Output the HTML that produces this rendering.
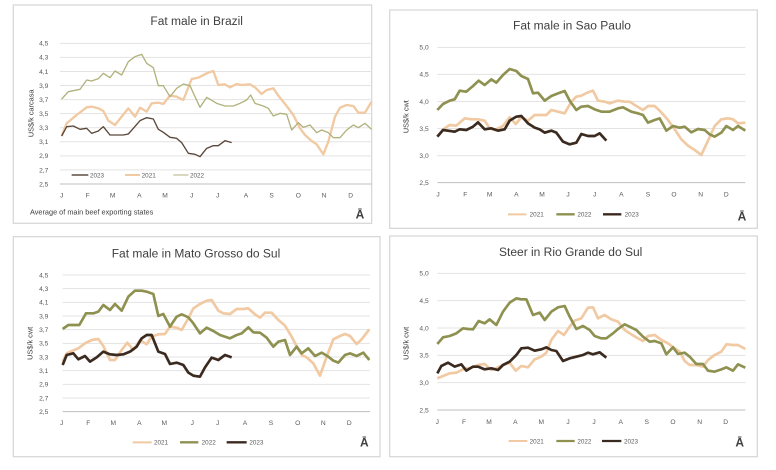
<!DOCTYPE html>
<html><head><meta charset="utf-8"><style>
html,body{margin:0;padding:0;background:#fff;width:776px;height:470px;overflow:hidden}
svg{display:block}
text{font-family:"Liberation Sans",sans-serif}
</style></head><body>
<svg id="s" width="776" height="470" viewBox="0 0 776 470" xmlns="http://www.w3.org/2000/svg"></svg>
<script>
const C21="#f1c9a2",C22="#8e9150",C23="#3b2a1f";
const panels=[
{o:[0,0],box:[40,15,1115,670],title:"Fat male in Brazil",ty:75,tx:590,
 ticks:["4,5","4,3","4,1","3,9","3,7","3,5","3,3","3,1","2,9","2,7","2,5"],gy0:130,gy1:552,gx0:180,gx1:1115,lx:145,
 months:[185,263,338,418,495,575,653,738,815,895,972,1052],my:592,yt:"US$/k carcasa",ytx:100,yty:340,
 foot:"Average  of main beef exporting states",
 leg:[[215,265,270,C23,4,"2023"],[375,420,425,C21,6,"2021"],[520,565,570,"#b1b27c",3,"2022"]],legy:525,ax:[1080,655],
 series:[
 [C21,7,[[185,408],[200,370],[230,345],[260,322],[275,320],[295,325],[310,333],[325,362],[345,375],[365,350],[385,325],[405,350],[420,323],[440,335],[455,310],[475,308],[490,312],[510,287],[530,290],[550,300],[575,237],[595,233],[620,220],[640,213],[655,255],[675,253],[690,262],[710,252],[725,255],[750,253],[765,262],[785,282],[800,270],[820,265],[835,287],[860,318],[880,345],[900,385],[915,405],[935,423],[950,433],[970,463],[985,425],[1005,350],[1020,323],[1040,315],[1060,318],[1075,338],[1095,338],[1115,305]]],
 ["#b1b27c",4,[[185,297],[205,275],[240,268],[260,240],[275,243],[295,236],[310,220],[330,233],[345,213],[365,225],[385,185],[405,170],[425,163],[440,190],[460,203],[475,257],[490,257],[510,290],[530,265],[550,252],[570,257],[585,290],[600,322],[620,292],[650,310],[675,318],[700,318],[720,310],[740,300],[752,285],[765,310],[790,318],[805,325],[820,348],[840,340],[860,343],[875,390],[895,368],[910,382],[930,375],[950,398],[965,390],[985,398],[1000,413],[1020,413],[1040,390],[1060,375],[1075,383],[1095,370],[1115,388]]],
 ["#5a463a",4,[[185,408],[200,380],[220,378],[240,388],[260,385],[275,400],[295,393],[310,380],[330,405],[350,405],[370,405],[385,402],[400,385],[420,362],[440,353],[460,357],[475,388],[490,397],[510,412],[530,415],[545,428],[565,460],[585,463],[600,470],[620,445],[640,437],[655,437],[675,422],[695,428]]]]},
{o:[388,0],box:[5,30,1108,685],title:"Fat male in Sao Paulo",ty:88,tx:552,
 ticks:["5,0","4,5","4,0","3,5","3,0","2,5"],gy0:142,gy1:548,gx0:148,gx1:1072,lx:122,
 months:[150,232,305,385,462,540,620,700,780,858,938,1015],my:590,yt:"US$/k cwt",ytx:62,yty:350,
 leg:[[360,415,425,C21,6,"2021"],[505,560,568,C22,7,"2022"],[645,700,710,C23,7,"2023"]],legy:643,ax:[1062,662],
 series:[
 [C21,8,[[148,410],[170,385],[185,375],[205,377],[230,355],[250,358],[270,358],[290,362],[305,385],[320,390],[345,378],[365,352],[383,372],[400,352],[420,362],[440,345],[460,345],[475,345],[490,330],[510,335],[530,340],[550,305],[565,290],[580,287],[600,277],[615,272],[630,302],[650,305],[665,310],[690,302],[710,305],[725,305],[745,318],[765,330],[780,318],[800,318],[820,337],[840,360],[860,388],[880,418],[900,437],[920,450],[940,465],[960,422],[980,378],[1000,358],[1020,355],[1035,358],[1050,370],[1072,368]]],
 [C22,8,[[148,330],[165,312],[185,302],[200,298],[215,272],[235,275],[255,258],[272,242],[290,255],[310,238],[325,248],[345,225],[365,207],[385,213],[400,228],[420,237],[435,280],[450,278],[470,302],[490,288],[510,280],[530,273],[545,302],[565,330],[580,320],[600,318],[620,328],[640,335],[665,335],[690,325],[705,322],[730,335],[750,340],[765,345],[780,368],[800,360],[815,355],[835,392],[855,378],[875,383],[890,380],[910,397],[930,387],[950,390],[965,403],[980,410],[1000,398],[1015,378],[1035,390],[1050,378],[1072,392]]],
 [C23,8,[[148,410],[165,390],[180,392],[200,395],[215,388],[235,390],[255,380],[270,367],[290,388],[310,385],[330,392],[350,388],[365,362],[385,350],[400,348],[420,370],[440,383],[455,388],[470,398],[490,392],[505,398],[525,425],[545,433],[565,428],[580,402],[600,408],[620,408],[635,400],[655,422]]]]},
{o:[0,230],box:[40,20,1140,680],title:"Fat male in Mato Grosso do Sul",ty:82,tx:588,
 ticks:["4,5","4,3","4,1","3,9","3,7","3,5","3,3","3,1","2,9","2,7","2,5"],gy0:135,gy1:545,gx0:188,gx1:1110,lx:145,
 months:[185,265,340,418,493,577,653,735,813,893,970,1048],my:585,yt:"US$/k cwt",ytx:98,yty:340,
 leg:[[398,455,462,C21,6,"2021"],[540,595,605,C22,7,"2022"],[680,740,748,C23,7,"2023"]],legy:637,ax:[1093,650],
 series:[
 [C21,8,[[188,395],[200,370],[215,363],[235,355],[255,340],[275,330],[295,327],[310,348],[330,390],[345,390],[365,360],[382,338],[400,360],[420,330],[440,343],[455,320],[475,313],[495,312],[510,290],[530,293],[545,300],[565,265],[580,235],[600,222],[620,212],[635,210],[655,242],[670,250],[690,252],[710,237],[730,237],[745,235],[765,253],[780,263],[795,248],[815,248],[835,270],[855,287],[875,320],[895,358],[905,375],[920,382],[940,400],[960,437],[980,380],[1000,328],[1020,318],[1035,312],[1050,318],[1070,342],[1085,328],[1108,298]]],
 [C22,8,[[188,297],[205,285],[238,285],[258,250],[280,250],[295,245],[310,225],[330,240],[345,222],[365,242],[385,200],[405,182],[425,182],[440,185],[460,192],[475,258],[490,252],[510,290],[530,260],[545,253],[565,262],[580,280],[600,310],[620,293],[640,303],[660,315],[690,325],[710,315],[725,310],[745,292],[760,307],[780,308],[800,323],[820,350],[835,335],[855,330],[870,375],[890,350],[905,370],[925,355],[945,378],[965,368],[985,380],[1000,392],[1015,398],[1035,375],[1050,370],[1070,378],[1090,368],[1108,390]]],
 [C23,8,[[188,405],[200,375],[220,370],[235,388],[255,378],[270,395],[290,382],[310,365],[330,373],[350,375],[370,373],[390,365],[410,350],[425,325],[440,315],[455,315],[475,365],[495,372],[510,402],[530,398],[550,405],[565,428],[580,437],[600,440],[615,412],[635,383],[655,390],[675,375],[695,382]]]]},
{o:[388,230],box:[5,18,1108,680],title:"Steer  in Rio Grande do Sul",ty:78,tx:548,
 ticks:["5,0","4,5","4,0","3,5","3,0","2,5"],gy0:130,gy1:540,gx0:148,gx1:1072,lx:122,
 months:[148,228,303,382,460,540,618,698,776,855,935,1013],my:582,yt:"US$/k cwt",ytx:62,yty:340,
 leg:[[362,418,425,C21,6,"2021"],[505,560,568,C22,7,"2022"],[642,700,708,C23,7,"2023"]],legy:633,ax:[1055,650],
 series:[
 [C21,8,[[148,445],[165,438],[185,430],[205,428],[225,418],[250,413],[270,405],[290,402],[310,420],[325,415],[345,405],[365,398],[383,422],[400,408],[420,412],[440,388],[460,380],[475,368],[490,330],[510,303],[528,315],[545,290],[560,272],[580,265],[600,233],[615,232],[630,265],[650,255],[670,268],[690,275],[710,300],[730,313],[750,325],[765,333],[780,318],[800,315],[820,330],[840,340],[860,355],[875,365],[890,393],[905,405],[925,405],[945,410],[960,390],[980,375],[1000,365],[1015,343],[1035,345],[1050,345],[1072,357]]],
 [C22,8,[[148,342],[165,322],[185,318],[205,310],[225,295],[240,297],[255,298],[272,273],[290,280],[305,268],[325,285],[345,245],[365,218],[385,205],[400,208],[415,208],[435,255],[455,248],[470,270],[490,245],[510,232],[530,228],[545,260],[565,297],[585,288],[605,300],[620,318],[640,325],[655,325],[675,310],[690,297],[710,283],[725,290],[745,300],[765,320],[785,335],[800,333],[820,340],[835,373],[855,352],[870,372],[890,368],[905,380],[925,402],[945,402],[960,422],[980,425],[1000,418],[1015,412],[1035,422],[1050,403],[1072,413]]],
 [C23,8,[[148,430],[160,408],[180,398],[200,410],[220,403],[235,422],[255,410],[270,410],[290,418],[310,415],[330,420],[345,405],[365,395],[385,375],[400,355],[420,353],[440,362],[460,358],[475,352],[490,360],[505,363],[525,393],[545,385],[565,380],[585,375],[600,368],[615,373],[635,367],[655,383]]]]}
];
const ML=["J","F","M","A","M","J","J","A","S","O","N","D"];
let h="";
for(const p of panels){
 h+=`<g transform="translate(${p.o[0]},${p.o[1]}) scale(0.33333)">`;
 const b=p.box;
 h+=`<rect x="${b[0]}" y="${b[1]}" width="${b[2]-b[0]}" height="${b[3]-b[1]}" fill="#fff" stroke="#d9d9d9" stroke-width="4"/>`;
 h+=`<text x="${p.tx}" y="${p.ty}" font-size="36" fill="#404040" text-anchor="middle">${p.title}</text>`;
 const n=p.ticks.length;
 for(let i=0;i<n;i++){
  const y=p.gy0+(p.gy1-p.gy0)*i/(n-1);
  h+=`<line x1="${p.gx0}" x2="${p.gx1}" y1="${y}" y2="${y}" stroke="${i==n-1?'#bfbfbf':'#e3e3e3'}" stroke-width="3"/>`;
  h+=`<text x="${p.lx}" y="${y+7}" font-size="20" fill="#595959" text-anchor="end">${p.ticks[i]}</text>`;
 }
 p.months.forEach((x,i)=>{h+=`<text x="${x}" y="${p.my}" font-size="20" fill="#595959" text-anchor="middle">${ML[i]}</text>`;});
 h+=`<text transform="translate(${p.ytx},${p.yty}) rotate(-90)" font-size="22" fill="#404040" text-anchor="middle">${p.yt}</text>`;
 if(p.foot)h+=`<text x="90" y="643" font-size="22" fill="#404040">${p.foot}</text>`;
 for(const s of p.series){
  h+=`<polyline fill="none" stroke="${s[0]}" stroke-width="${s[1]}" stroke-linejoin="round" points="${s[2].map(q=>q.join(',')).join(' ')}"/>`;
 }
 for(const l of p.leg){
  h+=`<line x1="${l[0]}" x2="${l[1]}" y1="${p.legy}" y2="${p.legy}" stroke="${l[3]}" stroke-width="${l[4]}"/>`;
  h+=`<text x="${l[2]}" y="${p.legy+7}" font-size="19" fill="#595959">${l[5]}</text>`;
 }
 h+=`<text x="${p.ax[0]}" y="${p.ax[1]}" font-size="36" font-weight="bold" fill="#404040" text-anchor="middle">Ā</text>`;
 h+=`</g>`;
}
document.getElementById("s").innerHTML=h;
</script>
</body></html>
